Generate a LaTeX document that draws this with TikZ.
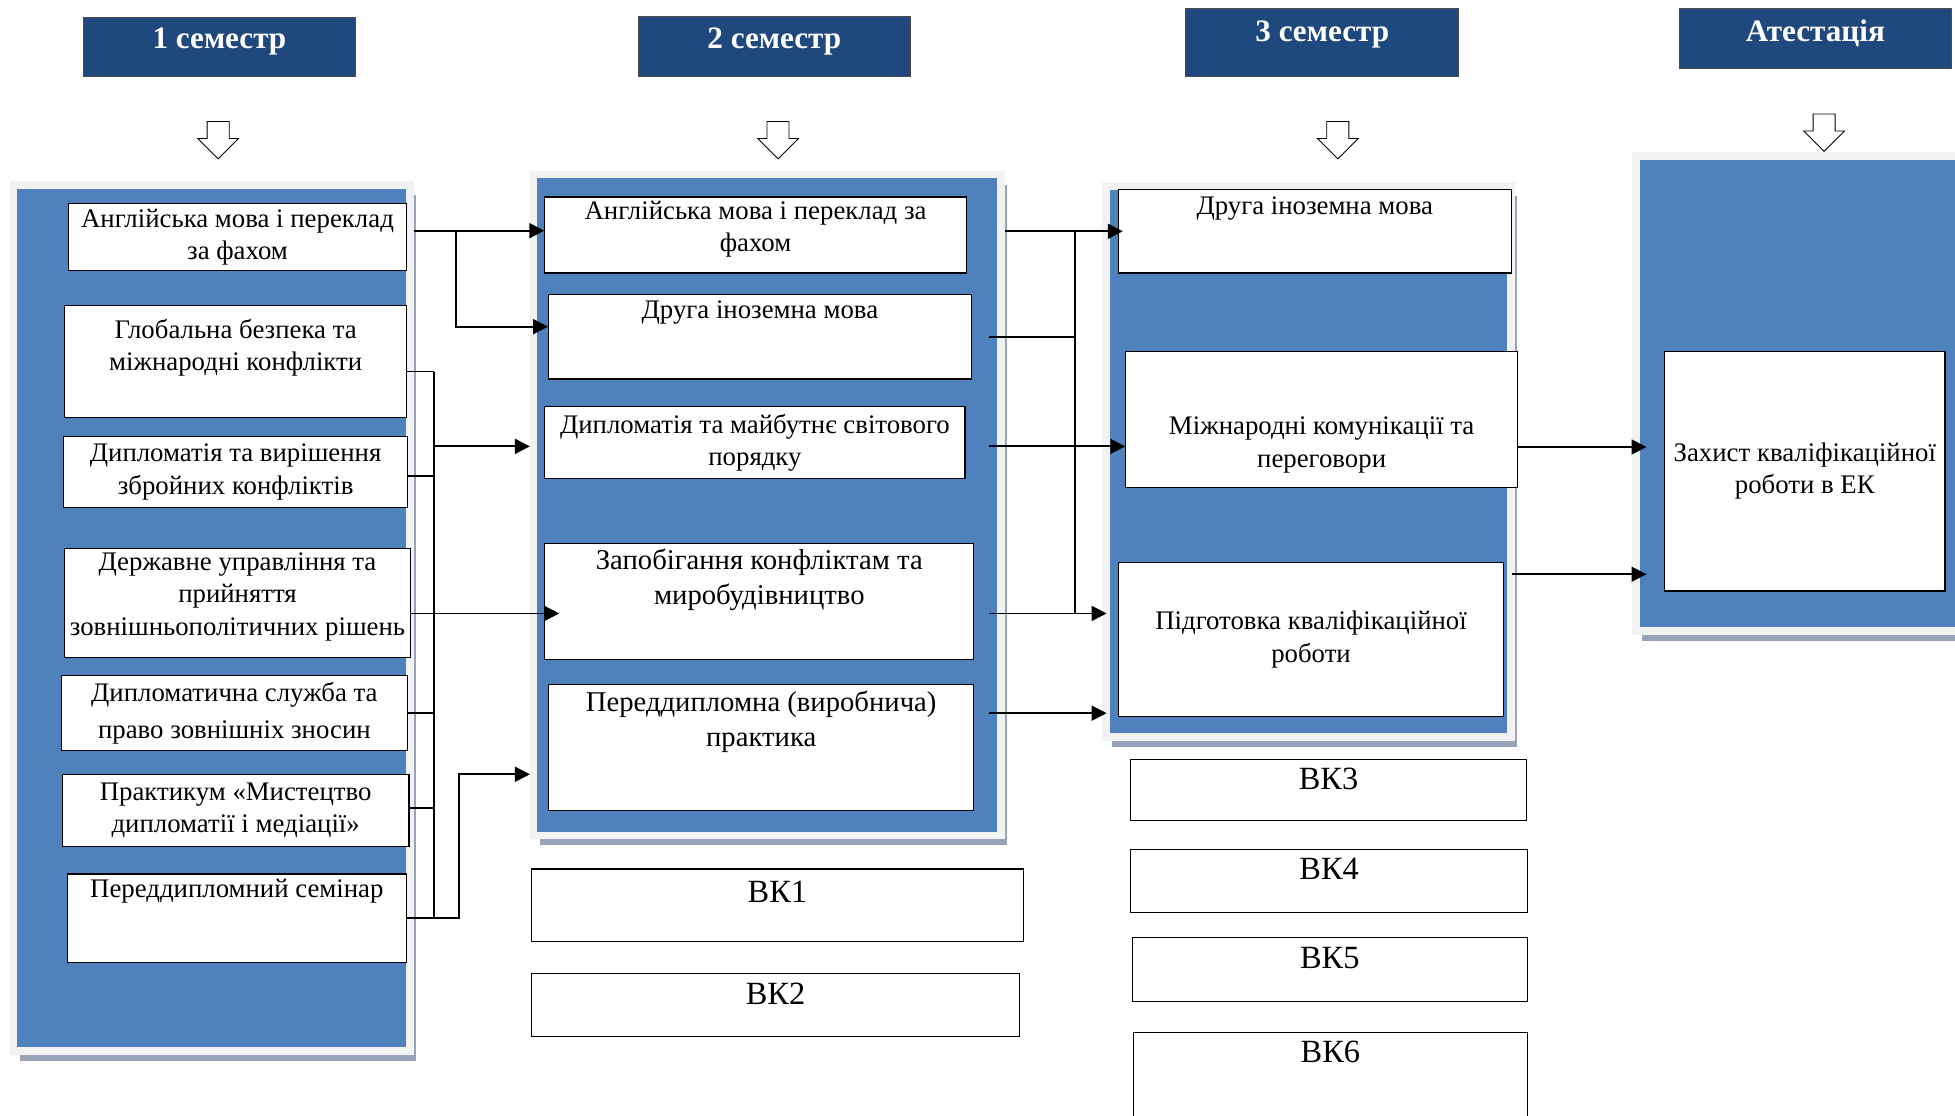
\documentclass[tikz,border=0pt]{standalone}
\usepackage{fontspec}
\setmainfont{Liberation Serif}
\usetikzlibrary{positioning,shapes.arrows,shadows,arrows.meta}

\definecolor{headblue}{HTML}{1F497D}
\definecolor{panelblue}{HTML}{4F81BD}
\definecolor{framegrey}{HTML}{F2F2F2}
\definecolor{shadowgrey}{HTML}{97A3B6}

\newcommand{\bodyfont}{\fontsize{21.5}{26}\selectfont}
\newcommand{\bigbodyfont}{\fontsize{23}{28}\selectfont}
\newcommand{\vkfont}{\fontsize{26}{30}\selectfont}
\newcommand{\headfont}{\fontsize{25}{30}\selectfont\bfseries}

\begin{document}
\begin{tikzpicture}[
		  x=1pt, y=-1pt,
		  semhead/.style={draw=black!70, fill=headblue, line width=0.8pt, inner sep=0pt},
		  panel/.style={draw=framegrey, line width=6pt, fill=panelblue,
		    drop shadow={shadow xshift=5pt, shadow yshift=-8pt, fill=shadowgrey, opacity=1}},
		  cell/.style={draw, fill=white, line width=0.9pt, align=center, font=\bodyfont, inner sep=0pt},
		  every label/.style={align=center, font=\bodyfont, inner sep=0pt},
		  downarrow/.style={single arrow, draw, fill=white, line width=0.7pt, shape border rotate=270,
		    minimum height=30pt, minimum width=32pt, single arrow head extend=7.5pt, inner sep=8.5pt},
		  link/.style={line width=1.4pt},
		  arr/.style={link, -{Triangle[length=12pt,width=12pt]}}
		]
		\useasboundingbox (0,0) rectangle (1568,895);

		% semesters
		\node[semhead, minimum width=218pt, minimum height=47pt,
		  label={[yshift=4.5pt, text=white, font=\headfont]center:1 семестр}] (S1) at (176,37.5) {};
		\node[semhead, minimum width=218pt, minimum height=48pt,
		  label={[yshift=4pt, text=white, font=\headfont]center:2 семестр}] (S2) at (621,37) {};
		\node[semhead, minimum width=219pt, minimum height=54pt,
		  label={[yshift=6pt, text=white, font=\headfont]center:3 семестр}] (S3) at (1060.5,34) {};
		\node[semhead, minimum width=218pt, minimum height=48pt,
		  label={[yshift=4pt, text=white, font=\headfont]center:Атестація}] (Att) at (1456,31) {};

		\node[downarrow] (S1arr) at (175,108) {};
		\node[downarrow] (S2arr) at (624,108) {};
		\node[downarrow] (S3arr) at (1073,108) {};
		\node[downarrow] (Attarr) at (1463,102) {};

		\node[panel, minimum width=318pt, minimum height=694.5pt] (P1) at (170,495.75) {};
		\node[panel, minimum width=375pt, minimum height=530pt] (P2) at (615.5,405) {};
		\node[panel, minimum width=325pt, minimum height=442pt] (P3) at (1049.5,370) {};
		\node[panel, minimum width=278pt, minimum height=381pt] (P4) at (1451,315.5) {};

		% 1 semester
		\node[cell, minimum width=271pt, minimum height=54pt] (Eng1) at (190.5,190)
		  {Англійська мова і переклад\\за фахом};
		\node[cell, minimum width=274pt, minimum height=90pt,
		  label={[yshift=11pt]center:{Глобальна безпека та\\міжнародні конфлікти}}] (Sec) at (189,290) {};
		\node[cell, minimum width=276pt, minimum height=57pt] (Arm) at (189,378.5)
		  {Дипломатія та вирішення\\збройних конфліктів};
		\node[cell, minimum width=277pt, minimum height=87pt,
		  label={[yshift=5pt]center:{Державне управління та\\прийняття\\зовнішньополітичних рішень}}] (Gov) at (190.5,483.5) {};
		\node[cell, minimum width=278pt, minimum height=60pt] (Serv) at (188,572)
		  {Дипломатична служба та\\[3pt]право зовнішніх зносин};
		\node[cell, minimum width=278pt, minimum height=58pt] (Med) at (189,650)
		  {Практикум «Мистецтво\\дипломатії і медіації»};
		\node[cell, minimum width=272pt, minimum height=71pt,
		  label={[yshift=21.5pt]center:Переддипломний семінар}] (Sem) at (190,736.5) {};

		% 2 semester
		\node[cell, minimum width=338pt, minimum height=61pt,
		  label={[yshift=4.5pt]center:{Англійська мова і переклад за\\фахом}}] (Eng2) at (606,188.5) {};
		\node[cell, minimum width=339pt, minimum height=68pt,
		  label={[yshift=19pt]center:Друга іноземна мова}] (Lang2) at (609.5,270) {};
		\node[cell, minimum width=337pt, minimum height=58pt] (Ord) at (605.5,355)
		  {Дипломатія та майбутнє світового\\порядку};
		\node[cell, minimum width=344pt, minimum height=93pt,
		  label={[yshift=17.5pt, font=\bigbodyfont]center:{Запобігання конфліктам та\\миробудівництво}}] (Peace) at (609,482.5) {};
		\node[cell, minimum width=341pt, minimum height=101pt,
		  label={[yshift=20.5pt, font=\bigbodyfont]center:{Переддипломна (виробнича)\\практика}}] (Prac) at (610.5,599.5) {};

		% 3 semester
		\node[cell, minimum width=315pt, minimum height=67pt,
		  label={[yshift=18.5pt]center:Друга іноземна мова}] (Lang3) at (1054.5,185.5) {};
		\node[cell, minimum width=314pt, minimum height=109pt,
		  label={[yshift=-20.5pt]center:{Міжнародні комунікації та\\переговори}}] (Comm) at (1060,336.5) {};
		\node[cell, minimum width=309pt, minimum height=124pt] (Thes) at (1051.5,513)
		  {Підготовка кваліфікаційної\\роботи};

		\node[cell, minimum width=225pt, minimum height=192pt] (Def) at (1447.5,378)
		  {Захист кваліфікаційної\\роботи в ЕК};

		% electives
		\node[cell, minimum width=395pt, minimum height=58pt,
		  label={[yshift=11pt, font=\vkfont]center:ВК1}] (VK1) at (623.5,726) {};
		\node[cell, minimum width=392pt, minimum height=50pt,
		  label={[yshift=9pt, font=\vkfont]center:ВК2}] (VK2) at (622,806) {};
		\node[cell, minimum width=317pt, minimum height=49pt,
		  label={[yshift=8.5pt, font=\vkfont]center:ВК3}] (VK3) at (1065.5,633.5) {};
		\node[cell, minimum width=318pt, minimum height=51pt,
		  label={[yshift=9.5pt, font=\vkfont]center:ВК4}] (VK4) at (1066,706.5) {};
		\node[cell, minimum width=317pt, minimum height=51pt,
		  label={[yshift=9.5pt, font=\vkfont]center:ВК5}] (VK5) at (1066.5,777.5) {};
		\node[cell, minimum width=316pt, minimum height=87pt,
		  label={[yshift=27.5pt, font=\vkfont]center:ВК6}] (VK6) at (1067,871.5) {};

		\coordinate (bus1) at (348,0);
		\coordinate (fork1) at (366,0);
		\coordinate (jog1) at (368,0);
		\coordinate (bus2) at (862,0);

		% 1 -> 2
		\path ([yshift=5pt]P1.east |- Eng1.east) edge[arr] ([yshift=5pt]Eng2.west |- Eng1.east);
		\draw[arr] ([yshift=5pt]fork1 |- Eng1.east) |- ([yshift=8pt]Lang2.west);
		\foreach \n/\dy in {Sec/-8,Arm/-3.5,Serv/0,Med/2}
			\draw[link] ([yshift=\dy pt]\n.east) -- ([yshift=\dy pt]bus1 |- \n.east);
		\draw[link] ([yshift=-8pt]bus1 |- Sec.east) -- (bus1 |- Sem.east);
		\path ([yshift=-3pt]bus1 |- Ord.west) edge[arr] ([yshift=-3pt]P2.west |- Ord.west)
			([yshift=-8.5pt]Gov.east) edge[arr] ([xshift=12pt,yshift=-8.5pt]Peace.west |- Gov.east);
		\draw[arr] (Sem.east) -| ([yshift=-21.5pt]jog1 |- Prac.west) -- ([yshift=-21.5pt]P2.west |- Prac.west);

		% 2 -> 3
		\path (P2.east |- Lang3.west) edge[arr] ([xshift=4pt]Lang3.west)
			([xshift=19pt,yshift=-3pt]Ord.east) edge[arr] ([yshift=-3pt]Comm.west |- Ord.east)
			([xshift=12pt,yshift=-9.5pt]Peace.east) edge[arr] ([xshift=-9pt,yshift=-9.5pt]Thes.west |- Peace.east)
			([xshift=12pt,yshift=27.5pt]Prac.east) edge[arr] ([xshift=-9pt,yshift=27.5pt]Thes.west |- Prac.east);
		\draw[link] ([xshift=14pt]Lang2.east) -- (bus2 |- Lang2.east);
		\draw[link] (bus2 |- Lang3.west) -- ([yshift=-9.5pt]bus2 |- Peace.east);

		% 3 -> attestation
		\path ([yshift=-22pt]Comm.east) edge[arr] ([xshift=-14pt,yshift=-22pt]Def.west |- Comm.east)
			([xshift=6.5pt,yshift=-10pt]Thes.north east) edge[arr] ([xshift=-14pt,yshift=-10pt]Def.west |- Thes.north east);
		\end{tikzpicture}
\end{document}
